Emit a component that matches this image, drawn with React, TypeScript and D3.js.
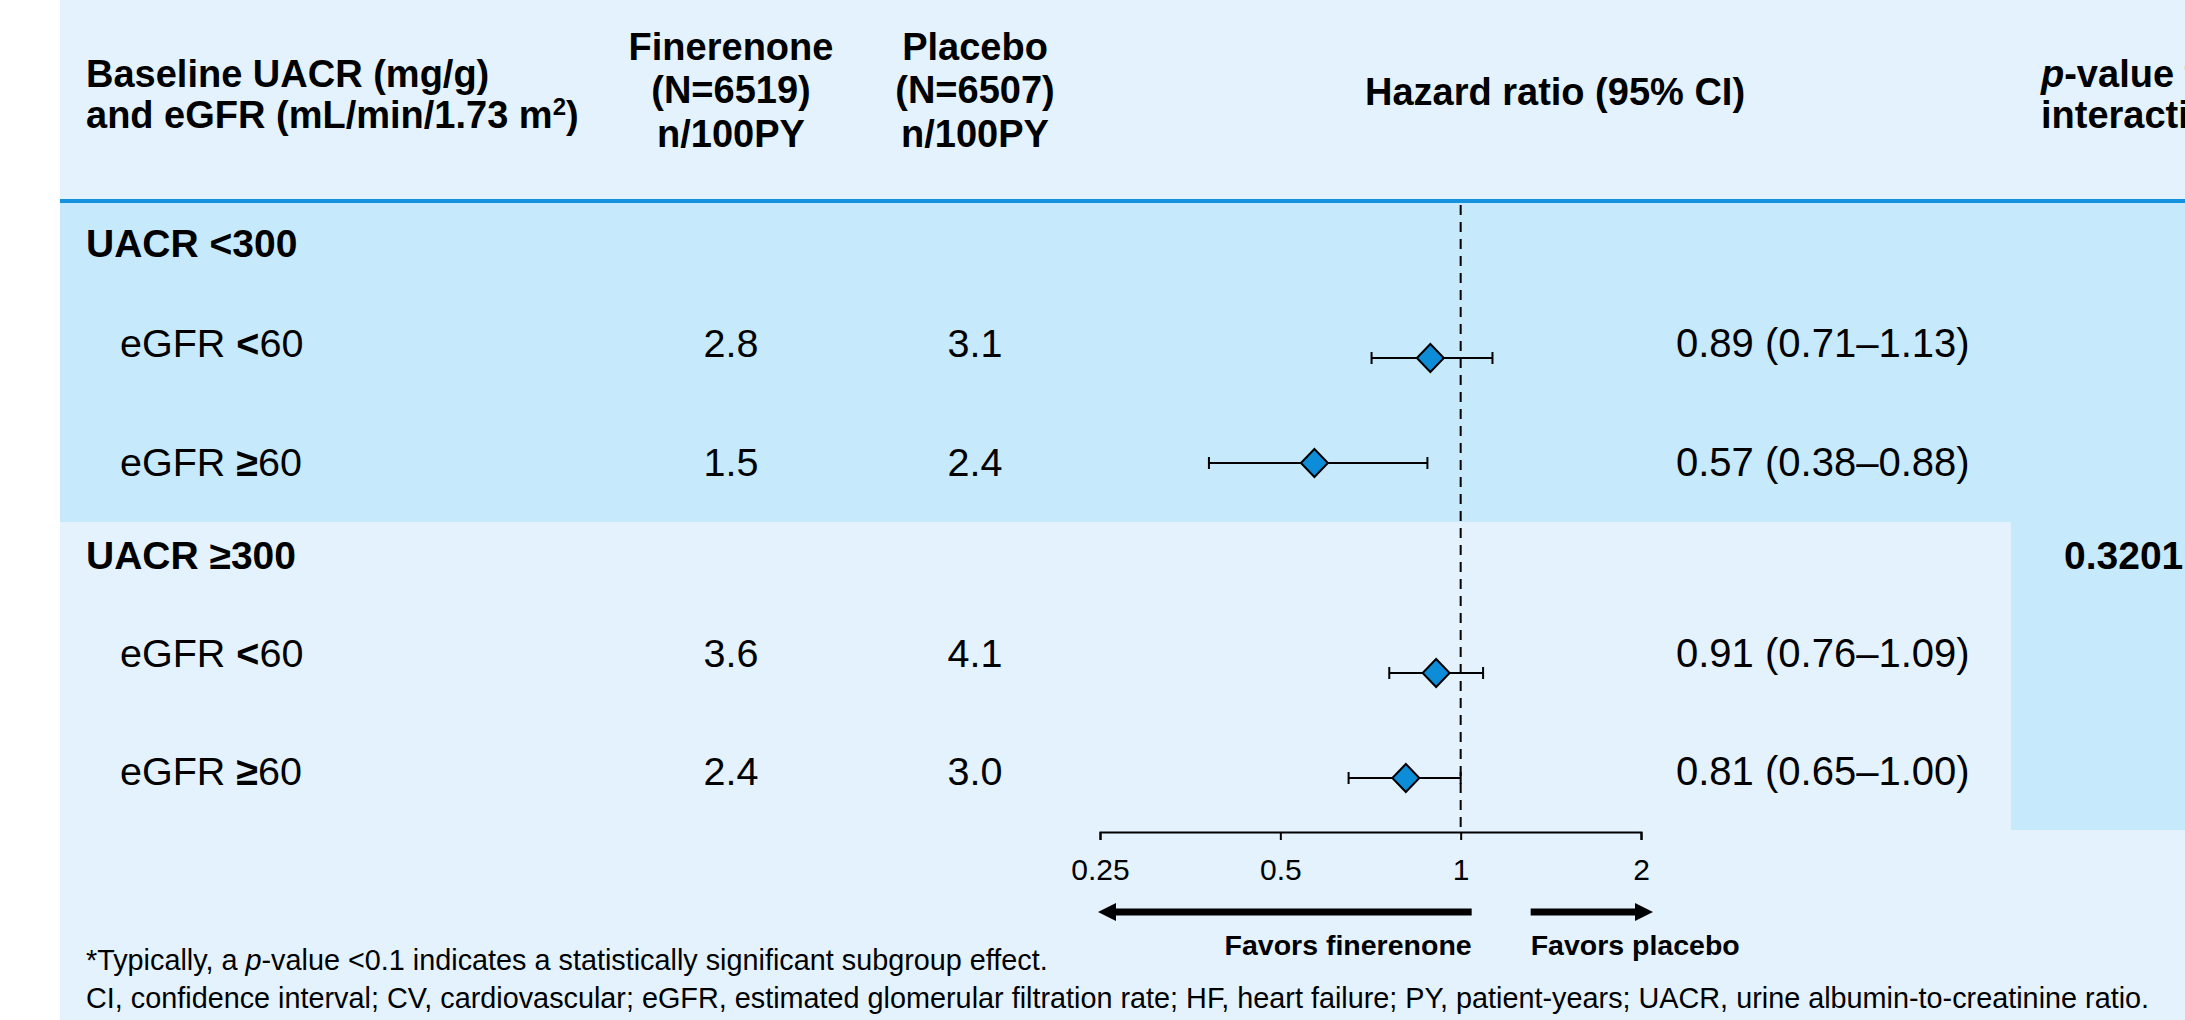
import React, { useEffect, useRef } from 'react';
import * as d3 from 'd3';

// ---------- data ----------
const groupLabels = ['UACR <300', 'UACR ≥300'];
const subgroupNames = ['eGFR', 'eGFR', 'eGFR', 'eGFR'];
const subgroupComparators = ['<', '≥', '<', '≥'];
const subgroupCutoffs = ['60', '60', '60', '60'];
const finerenoneRates = ['2.8', '1.5', '3.6', '2.4'];
const placeboRates = ['3.1', '2.4', '4.1', '3.0'];
const hazardRatios = [0.89, 0.57, 0.91, 0.81];
const ciLower = [0.71, 0.38, 0.76, 0.65];
const ciUpper = [1.13, 0.88, 1.09, 1.0];
const pInteraction = '0.3201';
const axisTicks = [0.25, 0.5, 1, 2];
const rowKeys = ['g0', 's0', 's1', 'g1', 's2', 's3'];
const subgroupRowKeys = ['s0', 's1', 's2', 's3'];

// ---------- layout ----------
const W = 2185;
const H = 1020;
const FONT = 'Liberation Sans, Arial, Helvetica, sans-serif';
const LEFT = 60;
const BG_LIGHT = '#E3F2FC';
const BG_BAND = '#C6E9FB';
const BLUE_LINE = '#1592DD';
const DIAMOND = '#0D8DD8';
const FS_HEAD = 38;
const FS_GROUP = 39;
const FS_BODY = 39.5;
const FS_HR = 40;
const textBaselines: Record<string, number> = { g0: 257, s0: 357, s1: 476, g1: 569, s2: 667, s3: 785 };
const COL_FIN = 731;
const COL_PLA = 975;
const COL_HR_TEXT = 1676;
const COL_P_HEAD = 2041;
const COL_P = 2064;

export default function App() {
  const axisRef = useRef<SVGGElement>(null);

  const x = d3.scaleLog().domain([0.25, 2]).range([1100, 1641]);
  const y = d3.scalePoint<string>().domain(rowKeys).range([253, 778]);
  const axisY = 832;

  useEffect(() => {
    if (!axisRef.current) return;
    const g = d3.select(axisRef.current);
    g.selectAll('*').remove();
    const axis = d3
      .axisBottom(x)
      .tickValues(axisTicks)
      .tickFormat((d) => String(d))
      .tickSize(8)
      .tickSizeOuter(8)
      .tickPadding(19);
    g.call(axis as any);
    g.select('.domain').attr('stroke', '#000').attr('stroke-width', 2);
    g.selectAll('.tick line').attr('stroke', '#000').attr('stroke-width', 2);
    g.selectAll('.tick text')
      .attr('fill', '#000')
      .style('font-size', '30px')
      .style('font-family', FONT);
  }, []);

  const x1 = x(1);
  const leftTip = x(0.25) - 2;
  const leftEnd = x1 + 11;
  const rightStart = x1 + 70;
  const rightTip = x(2) + 12;
  const ay = 912;
  const sh = 3.5;
  const hl = 18;
  const hw = 9;

  const fmt = (v: number) => v.toFixed(2);

  return (
    <div style={{ position: 'absolute', left: 0, top: 0 }}>
      <svg width={W} height={H} style={{ display: 'block', fontFamily: FONT }}>
        <rect x={0} y={0} width={W} height={H} fill="#fff" />
        <rect x={LEFT} y={0} width={W - LEFT} height={H} fill={BG_LIGHT} />
        <rect x={LEFT} y={203} width={W - LEFT} height={319} fill={BG_BAND} />
        <rect x={2011} y={522} width={W - 2011} height={308} fill={BG_BAND} />
        <rect x={LEFT} y={199} width={W - LEFT} height={4} fill={BLUE_LINE} />

        {/* header */}
        <g fontWeight="bold" fontSize={FS_HEAD} fill="#000">
          <text x={86} y={87}>Baseline UACR (mg/g)</text>
          <text x={86} y={128}>
            and eGFR (mL/min/1.73 m<tspan fontSize={24} dy={-13}>2</tspan>
            <tspan dy={13}>)</tspan>
          </text>
          <text x={COL_FIN} y={60} textAnchor="middle">Finerenone</text>
          <text x={COL_FIN} y={103} textAnchor="middle">(N=6519)</text>
          <text x={COL_FIN} y={147} textAnchor="middle">n/100PY</text>
          <text x={COL_PLA} y={60} textAnchor="middle">Placebo</text>
          <text x={COL_PLA} y={103} textAnchor="middle">(N=6507)</text>
          <text x={COL_PLA} y={147} textAnchor="middle">n/100PY</text>
          <text x={1555} y={105} textAnchor="middle">Hazard ratio (95% CI)</text>
          <text x={COL_P_HEAD} y={87}>
            <tspan fontStyle="italic">p</tspan>-value for
          </text>
          <text x={COL_P_HEAD} y={128}>interaction*</text>
        </g>

        {/* group labels */}
        {groupLabels.map((g, i) => (
          <text key={g} x={86} y={textBaselines['g' + i]} fontSize={FS_GROUP} fontWeight="bold">
            {g}
          </text>
        ))}

        {/* subgroup rows */}
        {subgroupRowKeys.map((k, i) => (
          <g key={k} fontSize={FS_BODY} fill="#000">
            <text x={120} y={textBaselines[k]}>
              {subgroupNames[i]} <tspan fontWeight="bold">{subgroupComparators[i]}</tspan>
              {subgroupCutoffs[i]}
            </text>
            <text x={COL_FIN} y={textBaselines[k]} textAnchor="middle">{finerenoneRates[i]}</text>
            <text x={COL_PLA} y={textBaselines[k]} textAnchor="middle">{placeboRates[i]}</text>
            <text x={COL_HR_TEXT} y={textBaselines[k]} fontSize={FS_HR}>
              {`${fmt(hazardRatios[i])} (${fmt(ciLower[i])}–${fmt(ciUpper[i])})`}
            </text>
          </g>
        ))}

        <text x={COL_P} y={textBaselines.g1} fontSize={FS_GROUP} fontWeight="bold">{pInteraction}</text>

        {/* reference line */}
        <line x1={x1} x2={x1} y1={205} y2={axisY} stroke="#000" strokeWidth={2} strokeDasharray="10,7" />

        {/* CI and diamonds */}
        {subgroupRowKeys.map((k, i) => {
          const cy = y(k) as number;
          const lo = x(ciLower[i]);
          const hi = x(ciUpper[i]);
          const cx = x(hazardRatios[i]);
          const r = 14;
          return (
            <g key={'f' + k}>
              <line x1={lo} x2={hi} y1={cy} y2={cy} stroke="#000" strokeWidth={2} />
              <line x1={lo} x2={lo} y1={cy - 6} y2={cy + 6} stroke="#000" strokeWidth={2} />
              <line x1={hi} x2={hi} y1={cy - 6} y2={cy + 6} stroke="#000" strokeWidth={2} />
              <path
                d={`M${cx},${cy - r} L${cx + r - 0.5},${cy} L${cx},${cy + r} L${cx - r + 0.5},${cy} Z`}
                fill={DIAMOND}
                stroke="#000"
                strokeWidth={2}
              />
            </g>
          );
        })}

        {/* axis */}
        <g ref={axisRef} transform={`translate(0,${axisY})`} />

        {/* favors arrows */}
        <path
          d={`M${leftTip},${ay} L${leftTip + hl},${ay - hw} L${leftTip + hl},${ay - sh} L${leftEnd},${ay - sh} L${leftEnd},${ay + sh} L${leftTip + hl},${ay + sh} L${leftTip + hl},${ay + hw} Z`}
          fill="#000"
        />
        <path
          d={`M${rightTip},${ay} L${rightTip - hl},${ay - hw} L${rightTip - hl},${ay - sh} L${rightStart},${ay - sh} L${rightStart},${ay + sh} L${rightTip - hl},${ay + sh} L${rightTip - hl},${ay + hw} Z`}
          fill="#000"
        />
        <text x={leftEnd} y={955} textAnchor="end" fontSize={28.5} fontWeight="bold">Favors finerenone</text>
        <text x={rightStart} y={955} fontSize={28.5} fontWeight="bold">Favors placebo</text>

        {/* footnotes */}
        <text x={86} y={970} fontSize={28.8}>
          *Typically, a <tspan fontStyle="italic">p</tspan>-value &lt;0.1 indicates a statistically significant subgroup effect.
        </text>
        <text x={86} y={1008} fontSize={28.8}>
          CI, confidence interval; CV, cardiovascular; eGFR, estimated glomerular filtration rate; HF, heart failure; PY, patient-years; UACR, urine albumin-to-creatinine ratio.
        </text>
      </svg>
    </div>
  );
}
